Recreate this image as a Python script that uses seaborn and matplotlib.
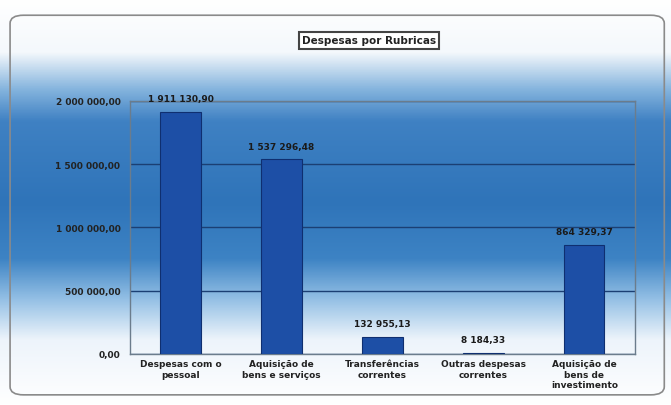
import numpy as np
import matplotlib
matplotlib.use("Agg")
import matplotlib.pyplot as plt
from matplotlib.colors import LinearSegmentedColormap
from matplotlib.patches import FancyBboxPatch
import seaborn as sns

rubricas = ["Despesas com o\npessoal", "Aquisição de\nbens e serviços",
            "Transferências\ncorrentes", "Outras despesas\ncorrentes",
            "Aquisição de\nbens de\ninvestimento"]
valores = [1911130.90, 1537296.48, 132955.13, 8184.33, 864329.37]
yticks = [0, 500000, 1000000, 1500000, 2000000]
ytick_labels = ["0,00", "500 000,00", "1 000 000,00", "1 500 000,00", "2 000 000,00"]


def fmt_pt(v):
    s = f"{v:,.2f}"
    return s.replace(",", " ").replace(".", ",")


sns.set_style("white")
fig = plt.figure(figsize=(6.71, 4.06), dpi=100)

# fundo em gradiente (branco - azul - branco)
bg = fig.add_axes([0, 0, 1, 1], zorder=0)
cmap = LinearSegmentedColormap.from_list(
    "fundo",
    [(0.0, "#ffffff"), (0.13, "#f4f8fc"), (0.22, "#86b5de"), (0.3, "#3f81c3"),
     (0.5, "#2f74b9"), (0.64, "#3d83c4"), (0.74, "#94c0e5"), (0.84, "#edf4fb"),
     (1.0, "#ffffff")])
grad = np.linspace(0, 1, 256).reshape(-1, 1)
bg.imshow(grad, aspect="auto", cmap=cmap, extent=[0, 1, 0, 1], origin="upper")
bg.set_xlim(0, 1)
bg.set_ylim(0, 1)
bg.axis("off")
bg.add_patch(FancyBboxPatch((0.015, 0.025), 0.975, 0.935,
                            boxstyle="round,pad=0,rounding_size=0.02",
                            fill=False, edgecolor="#8a8a8a", linewidth=1.2,
                            transform=bg.transAxes))

ax = fig.add_axes([0.194, 0.126, 0.752, 0.623], zorder=1)
ax.patch.set_alpha(0)
sns.barplot(x=rubricas, y=valores, color="#1d4fa6", width=0.4,
            edgecolor="#0f2f70", linewidth=0.8, saturation=1, ax=ax, zorder=3)

ax.set_ylim(0, 2000000)
ax.set_yticks(yticks)
ax.set_yticklabels(ytick_labels, fontsize=6.5, fontweight="bold", color="#222222")
ax.tick_params(axis="x", labelsize=6.5, length=0, pad=4)
for lab in ax.get_xticklabels():
    lab.set_fontweight("bold")
    lab.set_color("#222222")
ax.yaxis.grid(True, color="#1b3f73", linewidth=1.0, zorder=1)
for side in ["top", "right", "left", "bottom"]:
    ax.spines[side].set_color("#6b7c8c")
    ax.spines[side].set_linewidth(1.0)

for i, v in enumerate(valores):
    ax.text(i, v + 70000, fmt_pt(v), ha="center", va="bottom",
            fontsize=6.5, fontweight="bold", color="#1a1a1a", clip_on=False)

fig.text(0.55, 0.898, "Despesas por Rubricas", ha="center", va="center",
         fontsize=7.5, fontweight="bold", color="#222222", zorder=5,
         bbox=dict(boxstyle="square,pad=0.3", facecolor="white",
                   edgecolor="#444444", linewidth=1.5))

fig.savefig("out.png", dpi=100)
